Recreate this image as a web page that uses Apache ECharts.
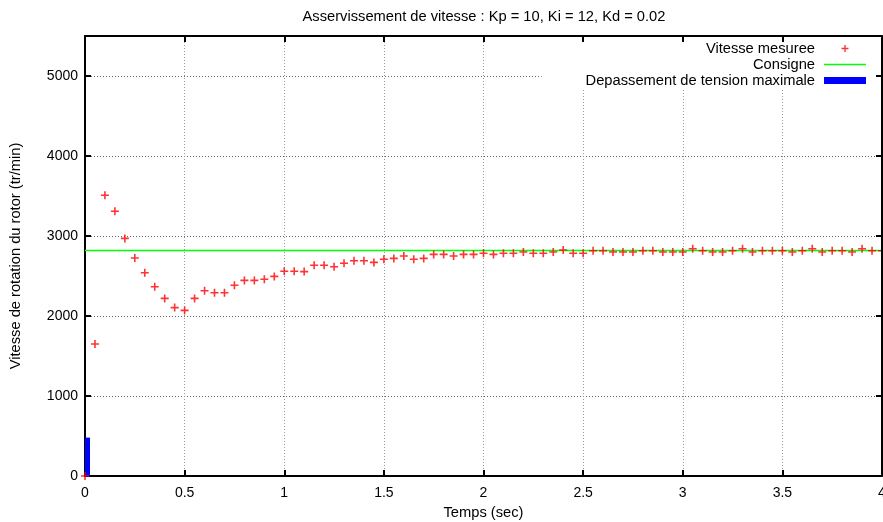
<!DOCTYPE html>
<html><head><meta charset="utf-8">
<script src="https://cdn.jsdelivr.net/npm/echarts@6/dist/echarts.min.js"></script>
<style>html,body{margin:0;padding:0;background:#fff}#c{width:883px;height:522px}</style>
</head><body><div id="c"></div>
<script>
const temps = [0,0.05,0.1,0.15,0.2,0.25,0.3,0.35,0.4,0.45,0.5,0.55,0.6,0.65,0.7,0.75,0.8,0.85,0.9,0.95,
  1,1.05,1.1,1.15,1.2,1.25,1.3,1.35,1.4,1.45,1.5,1.55,1.6,1.65,1.7,1.75,1.8,1.85,1.9,1.95,
  2,2.05,2.1,2.15,2.2,2.25,2.3,2.35,2.4,2.45,2.5,2.55,2.6,2.65,2.7,2.75,2.8,2.85,2.9,2.95,
  3,3.05,3.1,3.15,3.2,3.25,3.3,3.35,3.4,3.45,3.5,3.55,3.6,3.65,3.7,3.75,3.8,3.85,3.9,3.95,4];
const vitesse = [0,1650,3510,3310,2970,2725,2540,2365,2220,2105,2070,2220,2315,2290,2290,2385,2445,2445,2460,2495,
  2560,2560,2555,2635,2635,2615,2660,2690,2690,2670,2710,2720,2750,2710,2720,2770,2770,2750,2770,2770,
  2785,2770,2785,2785,2800,2785,2785,2800,2825,2785,2785,2815,2815,2800,2800,2800,2815,2815,2800,2800,
  2800,2840,2815,2800,2800,2815,2840,2800,2815,2815,2815,2800,2815,2840,2800,2815,2815,2800,2840,2815,2815];
const consigneT = [0, 4];
const consigneV = [2820, 2820];
const depassementT = [0];
const depassementV = [480];
const boxWidth = 0.05;
const xTicks = {min: 0, max: 4, interval: 0.5};
const yTicks = {min: 0, max: 5500, interval: 1000};
const titre = 'Asservissement de vitesse : Kp = 10, Ki = 12, Kd = 0.02';
const FONT = '"Liberation Sans", Arial, sans-serif';
const FS = 14.7;
const FS_TICK = 14;

const chart = echarts.init(document.getElementById('c'), null, {renderer: 'canvas'});
const plus = 'path://M0,3.2h8v1.6h-8z M3.2,0h1.6v8h-1.6z';
const lineIcon = 'path://M0,0H42V1.6H0Z';
const tickStyle = {show: true, inside: true, length: 6, lineStyle: {color: '#000', width: 2}};
const lineStyleAx = {show: true, onZero: false, lineStyle: {color: '#000', width: 2}};
const txt = {fontFamily: FONT, fontSize: FS, color: '#000'};
const tickTxt = {fontFamily: FONT, fontSize: FS_TICK, color: '#000'};
chart.setOption({
  animation: false,
  backgroundColor: '#fff',
  title: {text: titre, left: 479, textAlign: 'center', top: 4,
    textStyle: {...txt, fontWeight: 'normal'}},
  grid: {left: 85, right: 1, top: 36, bottom: 46, containLabel: false, outerBoundsMode: 'none'},
  legend: {
    orient: 'vertical', right: 2, top: 37, align: 'right',
    itemWidth: 42, itemHeight: 7, itemGap: 1,
    padding: [4, 15, 1, 44], backgroundColor: '#fff',
    textStyle: {...txt, lineHeight: 14, padding: [0, 4, 0, 0]},
    data: [
      {name: 'Vitesse mesuree', icon: plus},
      {name: 'Consigne', icon: lineIcon},
      {name: 'Depassement de tension maximale', icon: 'rect'}
    ]
  },
  xAxis: [
    {type: 'value', ...xTicks, position: 'bottom', name: 'Temps (sec)', nameLocation: 'middle', nameGap: 29,
      nameTextStyle: txt,
      axisLine: lineStyleAx, axisTick: tickStyle,
      axisLabel: {...tickTxt, margin: 10, formatter: v => String(v)},
      splitLine: {show: true, lineStyle: {color: '#999', type: [1, 2], width: 1}}},
    {type: 'value', ...xTicks, position: 'top', z: 10,
      axisLine: lineStyleAx, axisTick: tickStyle, axisLabel: {show: false}, splitLine: {show: false}}
  ],
  yAxis: [
    {type: 'value', ...yTicks, position: 'left', name: 'Vitesse de rotation du rotor (tr/min)',
      nameLocation: 'middle', nameGap: 62, nameRotate: 90,
      nameTextStyle: txt,
      axisLine: lineStyleAx, axisTick: tickStyle,
      axisLabel: {...tickTxt, margin: 7, showMaxLabel: false, formatter: v => String(v)},
      splitLine: {show: true, lineStyle: {color: '#666', type: [1, 2], width: 1}}},
    {type: 'value', ...yTicks, position: 'right', z: 10,
      axisLine: lineStyleAx, axisTick: tickStyle, axisLabel: {show: false}, splitLine: {show: false}}
  ],
  series: [
    {name: 'Vitesse mesuree', type: 'scatter', symbol: plus, symbolSize: 8,
      itemStyle: {color: '#ff0000'}, z: 3,
      data: temps.map((t, i) => [t, vitesse[i]])},
    {name: 'Consigne', type: 'line', symbol: 'none', showSymbol: false,
      lineStyle: {color: '#00ff00', width: 1.5}, itemStyle: {color: '#00ff00'}, z: 2,
      data: consigneT.map((t, i) => [t, consigneV[i]])},
    {name: 'Depassement de tension maximale', type: 'custom', itemStyle: {color: '#0000ff'}, z: 2,
      renderItem: function (params, api) {
        const x = api.value(0), v = api.value(1);
        const p0 = api.coord([x - boxWidth / 2, v]);
        const p1 = api.coord([x + boxWidth / 2, 0]);
        const cs = params.coordSys;
        const r = echarts.graphic.clipRectByRect(
          {x: p0[0], y: p0[1], width: p1[0] - p0[0], height: p1[1] - p0[1]},
          {x: cs.x, y: cs.y, width: cs.width, height: cs.height});
        return r && {type: 'rect', shape: r, style: {fill: '#0000ff'}};
      },
      data: depassementT.map((t, i) => [t, depassementV[i]])}
  ]
});
</script></body></html>
